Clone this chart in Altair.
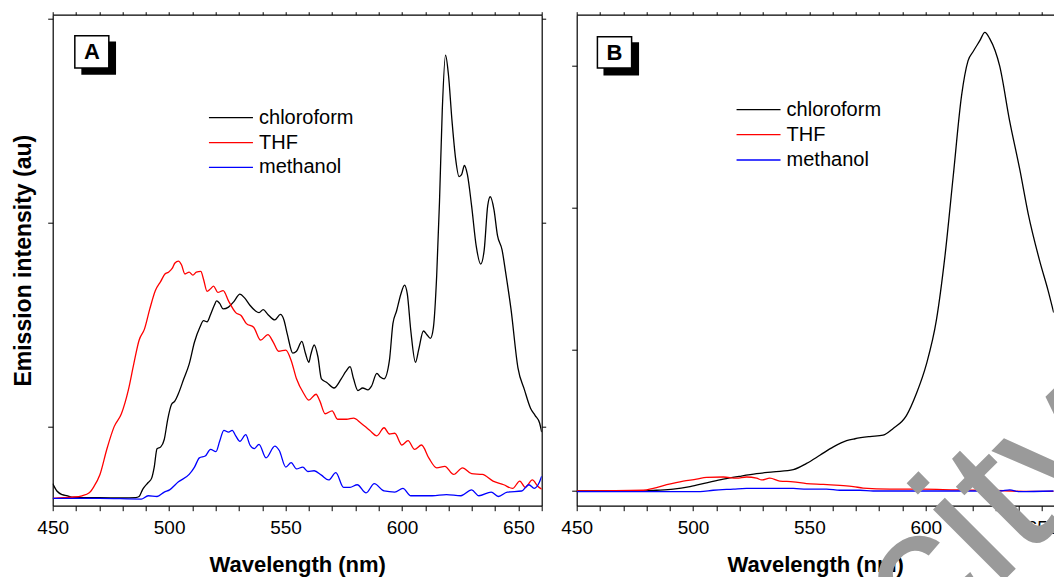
import altair as alt
import pandas as pd

FONT = "Liberation Sans"

solvents = ["chloroform", "THF", "methanol"]
solvent_colors = ["#000000", "#ff0000", "#0000ff"]

# ---- Panel A: emission spectra (wavelength in nm, intensity in a.u.) ----
a_chloroform_nm = [450, 451.8, 454.1, 456.4, 458, 461, 470, 480, 485.6, 487.1, 488.7, 491, 492.5, 493.6,
                   494.8, 496.4, 497.9, 499.4, 501, 502.5, 504, 506.3, 508.6, 510.9, 513.2, 514.8, 516.3,
                   517.8, 519.4, 520.4, 521.7, 523.2, 525.5, 527.8, 530.4, 532.4, 534.7, 537, 538.6, 540.4,
                   542.4, 545.4, 547.8, 549.3, 550.8, 553.1, 554.7, 557, 558.5, 560, 560.8, 562.3, 563.9,
                   565.4, 567.7, 570.8, 573.9, 575.9, 577.7, 579.2, 581.1, 583.1, 585.4, 586.9, 589.2,
                   590.7, 592.3, 594.6, 596.1, 597.7, 599.5, 601.1, 602.3, 603.8, 605.8, 607.2, 609.2,
                   610.7, 612.2, 613.5, 614.9, 616.1, 617.3, 618.7, 619.9, 621.5, 623, 624.5, 625.6, 626.8,
                   628.1, 629.9, 631.9, 633.8, 635.3, 636.8, 637.9, 639.5, 641, 643, 644.5, 646.8, 649.8,
                   652.6, 655.2, 657.2, 659.1, 660]
a_chloroform_int = [60, 40, 30, 27, 23, 22, 22, 21, 22, 25, 45, 63, 75, 105,
                    155, 160, 180, 235, 275, 285, 305, 345, 385, 445, 485, 503, 500,
                    520, 545, 557, 550, 535, 540, 555, 575, 565, 545, 530, 525, 533,
                    520, 505, 520, 505, 465, 415, 420, 447, 415, 390, 410, 437, 405,
                    345, 335, 320, 345, 365, 378, 345, 313, 320, 315, 325, 360,
                    350, 345, 395, 495, 530, 575, 600, 575, 475, 390, 425, 475,
                    465, 455, 485, 625, 825, 1075, 1225, 1175, 1045, 945, 895, 900, 925,
                    900, 815, 705, 657, 695, 815, 840, 805, 735, 695, 635, 535, 375,
                    315, 265, 245, 225, 200]

a_thf_nm = [450, 458, 462.6, 465.7, 467.5, 470.3, 473.3, 476.4, 479.5, 482.5, 484.8, 487.1, 489.4, 491.7,
            494.1, 496.4, 498.2, 499.7, 501.3, 502.5, 504, 505.3, 506.8, 508.6, 510.2, 511.7, 513.6,
            514.8, 516.3, 517.8, 519.1, 520.9, 523.2, 525.5, 528.6, 530.9, 533.2, 536.3, 539.3, 542.4,
            544.7, 547, 550.1, 552.4, 554.7, 557.8, 560, 563.1, 564.7, 567, 570, 572.3, 576.2, 579.2,
            582.3, 586.1, 589.2, 592.3, 594.6, 596.9, 600, 602.6, 605.4, 608.4, 611.5, 614.9, 618.4,
            622.2, 626, 629.9, 634.5, 639.1, 643.7, 647.5, 650.6, 652.9, 656, 658.3, 660]
a_thf_int = [20, 23, 27, 35, 50, 85, 155, 215, 250, 315, 385, 450, 480, 535,
             585, 610, 630, 635, 645, 660, 665, 655, 630, 635, 627, 635, 637,
             615, 583, 590, 597, 580, 585, 557, 525, 517, 495, 485, 450, 465,
             445, 420, 423, 395, 345, 305, 287, 303, 285, 250, 258, 235, 235, 238,
             225, 205, 190, 212, 195, 197, 165, 177, 153, 165, 130, 103, 107,
             85, 103, 87, 85, 67, 57, 47, 67, 50, 70, 53, 45]

a_methanol_nm = [450, 470, 488, 491, 494.8, 497.9, 500.2, 504, 508.6, 510.9, 513, 515.5, 517.8, 520.1,
                 521.7, 523.5, 525.5, 527.1, 528.6, 530.4, 532.9, 534.7, 536.6, 538.6, 541.6, 545.4,
                 547.3, 550.1, 552.4, 554.7, 557.4, 559.6, 562.3, 565.4, 568.5, 571.6, 574.9, 577.7,
                 580.8, 584.6, 588.1, 592.3, 596.9, 600.4, 603.8, 608.4, 613, 619.1, 625.3, 629.9, 633,
                 638.3, 641.4, 645.2, 651.4, 654.5, 656.8, 659.1, 660]
a_methanol_int = [20, 20, 18, 27, 25, 37, 43, 65, 85, 105, 130, 135, 153, 147,
                  175, 205, 200, 205, 190, 175, 193, 165, 155, 167, 130, 162,
                  150, 105, 117, 100, 105, 93, 95, 83, 70, 90, 50, 50,
                  57, 35, 60, 40, 37, 47, 27, 27, 27, 30, 27, 43, 27,
                  37, 25, 37, 40, 57, 47, 65, 80]

# ---- Panel B ----
b_chloroform_nm = [450, 477.2, 484.4, 491.5, 498.7, 505.8, 513, 520.2, 527.3, 534.5, 543.1, 548.8, 554.5,
                   560.3, 566, 569.6, 576, 581.7, 586, 591.7, 596, 600.3, 604.6, 608.2, 611.8, 615.4,
                   618.2, 620.4, 623.3, 625.4, 627.5, 631.8, 636.1, 640.4, 644, 649, 652.6, 655]
b_chloroform_int = [40, 40, 42, 45, 52, 62, 72, 80, 87, 92, 98, 115, 137,
                    160, 177, 182, 188, 192, 210, 245, 305, 385, 505, 675, 895, 1115,
                    1210, 1235, 1265, 1287, 1270, 1195, 1045, 915, 795, 665, 585, 525]

b_thf_nm = [450, 478.6, 482.9, 488.7, 495.8, 501.5, 505.8, 513, 518.7, 523, 527.3, 529.5, 533, 537.3,
            543.1, 548.8, 556, 563.1, 568.9, 573.1, 584.6, 598.9, 613.2, 627.5, 641.9, 655]
b_thf_int = [40, 42, 47, 57, 67, 72, 77, 78, 75, 78, 75, 70, 75, 67,
             65, 60, 58, 55, 52, 48, 45, 45, 43, 42, 39, 39]

b_methanol_nm = [450, 503, 508.7, 517.3, 523, 534.5, 543.1, 548.8, 557.4, 563.1, 571.7, 577.4, 591.7,
                 606.1, 620.4, 631.8, 636.1, 640.4, 655]
b_methanol_int = [38, 38, 42, 45, 47, 47, 47, 45, 45, 42, 42, 40, 40,
                  40, 40, 40, 43, 38, 40]

x_ticks_a = list(range(450, 661, 10))
x_ticks_b = list(range(450, 651, 10))
y_ticks_a = [215, 770, 1325]
y_ticks_b = [40, 425, 810, 1195]

watermark_text = "city"


def spectra_frame(series):
    rows = []
    for name, (nm, inten) in series.items():
        for w, v in zip(nm, inten):
            rows.append({"solvent": name, "wavelength": w, "intensity": v})
    return pd.DataFrame(rows)


def panel(series, x_max, x_ticks, y_ticks, legend_nm, legend_int, box, tag, y_title, right_frame):
    x_scale = alt.Scale(domain=[450, x_max], nice=False, zero=False)
    y_scale = alt.Scale(domain=[0, 1335], nice=False, zero=False)
    color = alt.Color("solvent:N", scale=alt.Scale(domain=solvents, range=solvent_colors), legend=None)

    bottom_axis = alt.Axis(values=x_ticks, labelExpr="datum.value % 50 == 0 ? datum.label : ''",
                           labelFlush=False, labelOverlap=False, tickSize=5, labelPadding=8,
                           titlePadding=17, title="Wavelength (nm)")
    left_kw = dict(values=y_ticks, labels=False, tickSize=5, titlePadding=12, titleFontSize=23)
    if y_title:
        left_axis = alt.Axis(title=y_title, **left_kw)
    else:
        left_axis = alt.Axis(title=None, **left_kw)

    spectra = alt.Chart(spectra_frame(series)).mark_line(
        strokeWidth=1.3, clip=True, interpolate="monotone"
    ).encode(
        x=alt.X("wavelength:Q", scale=x_scale, axis=bottom_axis),
        y=alt.Y("intensity:Q", scale=y_scale, axis=left_axis),
        color=color,
    )

    # in-plot key: short line samples followed by the solvent names
    key = pd.DataFrame({
        "solvent": solvents,
        "x0": [legend_nm[0]] * 3,
        "x1": [legend_nm[1]] * 3,
        "xt": [legend_nm[2]] * 3,
        "v": legend_int,
    })
    top_axis = alt.Axis(orient="top", values=x_ticks, labels=False, tickSize=3, title=None)
    if right_frame:
        key_y = alt.Y("v:Q", scale=y_scale,
                      axis=alt.Axis(orient="right", values=y_ticks, labels=False, tickSize=4, title=None))
    else:
        key_y = alt.Y("v:Q", scale=y_scale, axis=None)
    key_lines = alt.Chart(key).mark_rule(strokeWidth=1.3).encode(
        x=alt.X("x0:Q", scale=x_scale, axis=top_axis),
        x2="x1:Q",
        y=key_y,
        color=color,
    )
    key_text = alt.Chart(key).mark_text(
        align="left", baseline="middle", font=FONT, fontSize=20, color="black"
    ).encode(
        x=alt.X("xt:Q", scale=x_scale, axis=None),
        y=alt.Y("v:Q", scale=y_scale, axis=None),
        text="solvent:N",
    )

    # panel tag: white box with a black drop shadow
    box_df = pd.DataFrame([box])
    shadow = alt.Chart(box_df).mark_rect(color="black").encode(
        x=alt.X("sx0:Q", scale=x_scale, axis=None), x2="sx1:Q",
        y=alt.Y("sv0:Q", scale=y_scale, axis=None), y2="sv1:Q",
    )
    frame = alt.Chart(box_df).mark_rect(fill="white", stroke="black", strokeWidth=1.5).encode(
        x=alt.X("bx0:Q", scale=x_scale, axis=None), x2="bx1:Q",
        y=alt.Y("bv0:Q", scale=y_scale, axis=None), y2="bv1:Q",
    )
    letter = alt.Chart(box_df).mark_text(
        font=FONT, fontSize=22, fontWeight="bold", color="black", baseline="middle", align="center"
    ).encode(
        x=alt.X("tx:Q", scale=x_scale, axis=None),
        y=alt.Y("tv:Q", scale=y_scale, axis=None),
        text=alt.value(tag),
    )
    return [spectra, key_lines, key_text, shadow, frame, letter]


layers_a = panel(
    {"chloroform": (a_chloroform_nm, a_chloroform_int),
     "THF": (a_thf_nm, a_thf_int),
     "methanol": (a_methanol_nm, a_methanol_int)},
    660, x_ticks_a, y_ticks_a,
    [517.1, 536.0, 538.6], [1055, 987, 920],
    {"sx0": 462.3, "sx1": 477.2, "sv0": 1262, "sv1": 1172,
     "bx0": 459.5, "bx1": 474.1, "bv0": 1278, "bv1": 1190, "tx": 466.8, "tv": 1234},
    "A", "Emission intensity (au)", True,
)
panel_a = alt.layer(*layers_a).resolve_axis(x="independent", y="independent").properties(
    width=489, height=491)

layers_b = panel(
    {"chloroform": (b_chloroform_nm, b_chloroform_int),
     "THF": (b_thf_nm, b_thf_int),
     "methanol": (b_methanol_nm, b_methanol_int)},
    655, x_ticks_b, y_ticks_b,
    [518.7, 537.6, 540.2], [1077, 1009, 940],
    {"sx0": 461.5, "sx1": 476.8, "sv0": 1260, "sv1": 1170,
     "bx0": 458.9, "bx1": 473.6, "bv0": 1275, "bv1": 1190, "tx": 466.2, "tv": 1232},
    "B", None, False,
)
# grey diagonal stamp lying across the lower right of panel B
stamp = alt.Chart(pd.DataFrame({"t": [watermark_text]})).mark_text(
    font=FONT, fontSize=190, color="#9a9a9a", angle=315, align="left", baseline="alphabetic"
).encode(x=alt.value(351), y=alt.value(642), text="t:N")
panel_b = alt.layer(*layers_b, stamp).resolve_axis(x="independent", y="independent").properties(
    width=477, height=491)

# fixed 1054 x 577 canvas: the first plot area starts at (52.7, 14.7);
# anything running past the canvas edge is cut off
chart = alt.hconcat(panel_a, panel_b, spacing=35, bounds="flush").properties(
    autosize=alt.AutoSizeParams(type="none"),
    padding={"left": 52.7, "top": 14.7, "right": 1001.3, "bottom": 562.3},
    background="white",
).configure_view(stroke=None).configure_axis(
    grid=False,
    domainColor="black", domainWidth=1.2,
    tickColor="black", tickWidth=1,
    labelFont=FONT, labelFontSize=19, labelColor="black",
    titleFont=FONT, titleFontSize=22, titleFontWeight="bold", titleColor="black",
)

chart.save("out.html", embed_options={"renderer": "svg", "actions": False})
